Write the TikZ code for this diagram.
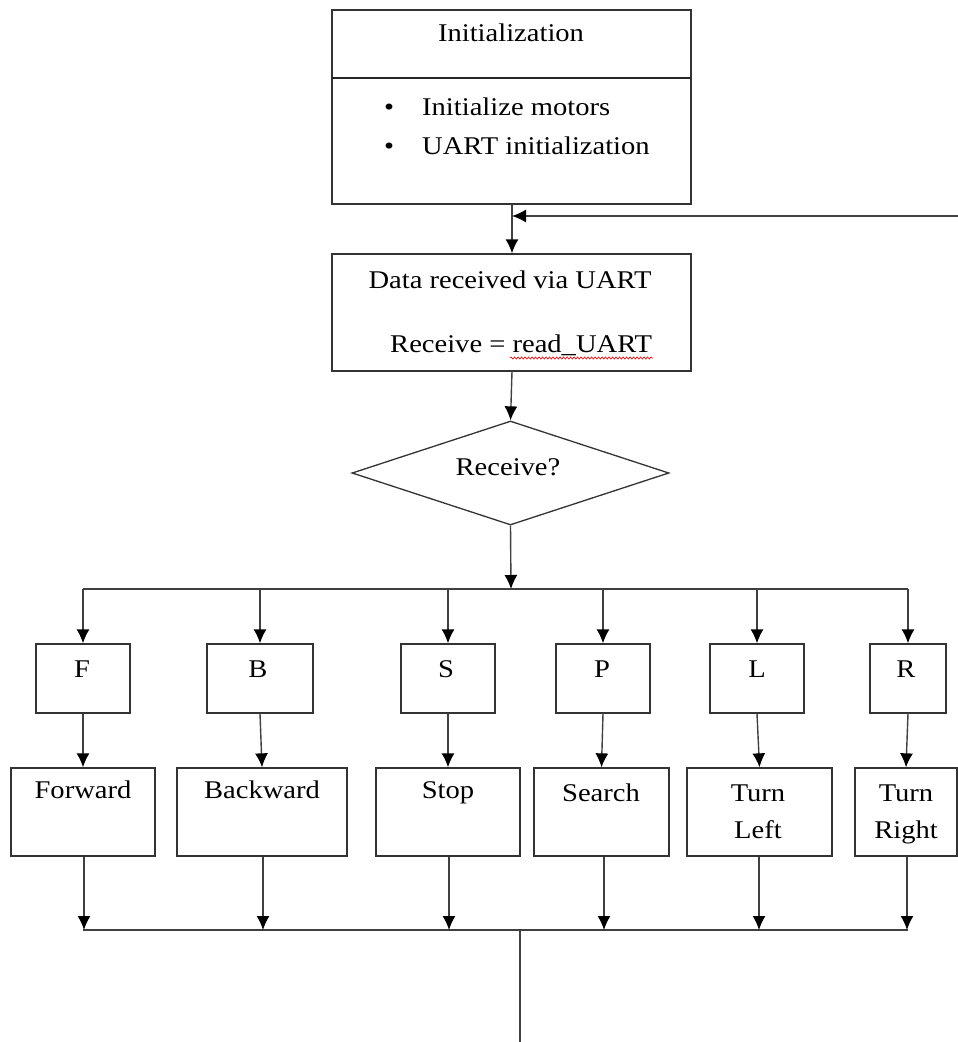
\documentclass[tikz,border=0pt]{standalone}
\usepackage{fontspec}
\setmainfont{Liberation Serif}[FakeStretch=1.12]
\usetikzlibrary{arrows.meta,shapes.geometric,decorations.pathmorphing}
\begin{document}
\begin{tikzpicture}[x=1pt,y=-1pt,
  box/.style={draw=black!80, line width=1.3pt, inner sep=0pt},
  lbl/.style={inner sep=0pt, anchor=base, font=\fontsize{25.5}{30}\selectfont, text=black},
  conn/.style={draw=black!75, line width=1.4pt},
  arr/.style={conn, -{Latex[length=14pt,width=13pt,color=black]}}]
\useasboundingbox (0,0) rectangle (958,1042);

% top boxes
\node[box, minimum width=359pt, minimum height=194pt] (init) at (511.5,107) {};
\draw[black!85, line width=2pt] (332,78) -- (691,78);
\node[lbl] (tinit) at (511,41) {Initialization};
\node[lbl] (b1) at (389,115) {•};
\node[lbl, anchor=base west] (t1) at (422,115) {Initialize motors};
\node[lbl] (b2) at (389,154) {•};
\node[lbl, anchor=base west] (t2) at (422,154) {UART initialization};

\node[box, minimum width=359pt, minimum height=117pt] (data) at (511.5,312.5) {};
\node[lbl] (td1) at (510,288) {Data received via UART};
\node[lbl, anchor=base west] (td2) at (390,352) {Receive = read\_UART};
\draw[red, line width=0.6pt, decorate, decoration={snake, amplitude=1.1pt, segment length=3.5pt}] (510,358) -- (653,358);

\node[box, diamond, minimum width=317pt, minimum height=104pt] (dec) at (510.5,473) {};
\node[lbl] (tdec) at (508,475) {Receive?};

% feedback
\coordinate (fbR) at (958,216);
\coordinate (fbL) at (512,216);
\draw[arr] (fbR) -- (fbL);
\draw[arr] (init.south -| fbL) -- (data.north -| fbL);
\draw[arr] (data.south -| fbL) -- (dec.north);

% bus
\coordinate (busC) at (511,589);
\coordinate (busL) at (83,589);
\coordinate (busR) at (908,589);
\draw[arr] (dec.south) -- (busC);
\draw[conn] (busL) -- (busR);

% small boxes
\node[box, minimum width=94pt, minimum height=69pt] (F) at (83,678.5) {};
\node[box, minimum width=106pt, minimum height=69pt] (B) at (260,678.5) {};
\node[box, minimum width=94pt, minimum height=69pt] (S) at (448,678.5) {};
\node[box, minimum width=94pt, minimum height=69pt] (P) at (603,678.5) {};
\node[box, minimum width=94pt, minimum height=69pt] (L) at (757,678.5) {};
\node[box, minimum width=76pt, minimum height=69pt] (R) at (908,678.5) {};
\node[lbl] (tF) at (82,677) {F};
\node[lbl] (tB) at (258,677) {B};
\node[lbl] (tS) at (446,677) {S};
\node[lbl] (tP) at (602,677) {P};
\node[lbl] (tL) at (757,677) {L};
\node[lbl] (tR) at (906,677) {R};

\foreach \n in {F,B,S,P,L,R}{
  \draw[arr] (\n.north |- busL) -- (\n.north);
}

% big boxes
\node[box, minimum width=144pt, minimum height=88pt] (fwd) at (83,812) {};
\node[box, minimum width=170pt, minimum height=88pt] (bwd) at (262,812) {};
\node[box, minimum width=144pt, minimum height=88pt] (stp) at (448,812) {};
\node[box, minimum width=135pt, minimum height=88pt] (src) at (601.5,812) {};
\node[box, minimum width=145pt, minimum height=88pt] (tl) at (759.5,812) {};
\node[box, minimum width=102pt, minimum height=88pt] (tr) at (906,812) {};
\node[lbl] (tfwd) at (83,798) {Forward};
\node[lbl] (tbwd) at (262,798) {Backward};
\node[lbl] (tstp) at (448,798) {Stop};
\node[lbl] (tsrc) at (601,801) {Search};
\node[lbl] (ttl1) at (758,801) {Turn};
\node[lbl] (ttl2) at (758,838) {Left};
\node[lbl] (ttr1) at (906,801) {Turn};
\node[lbl] (ttr2) at (906,838) {Right};

\draw[arr] (F.south) -- (fwd.north);
\draw[arr] (B.south) -- (bwd.north);
\draw[arr] (S.south) -- (stp.north);
\draw[arr] (P.south) -- (src.north);
\draw[arr] (L.south) -- (tl.north);
\draw[arr] (R.south) -- (tr.north);

% bottom bus
\coordinate (botL) at (83,930);
\coordinate (botR) at (908,930);
\coordinate (botC) at (520,930);
\coordinate (out) at (520,1042);
\draw[conn] (botL) -- (botR);
\foreach \n/\x in {fwd/84,bwd/263,stp/449,src/604,tl/759,tr/907}{
  \draw[arr] (\n.south -| \x,0) -- (\x,930);
}
\draw[conn] (botC) -- (out);
\end{tikzpicture}
\end{document}
